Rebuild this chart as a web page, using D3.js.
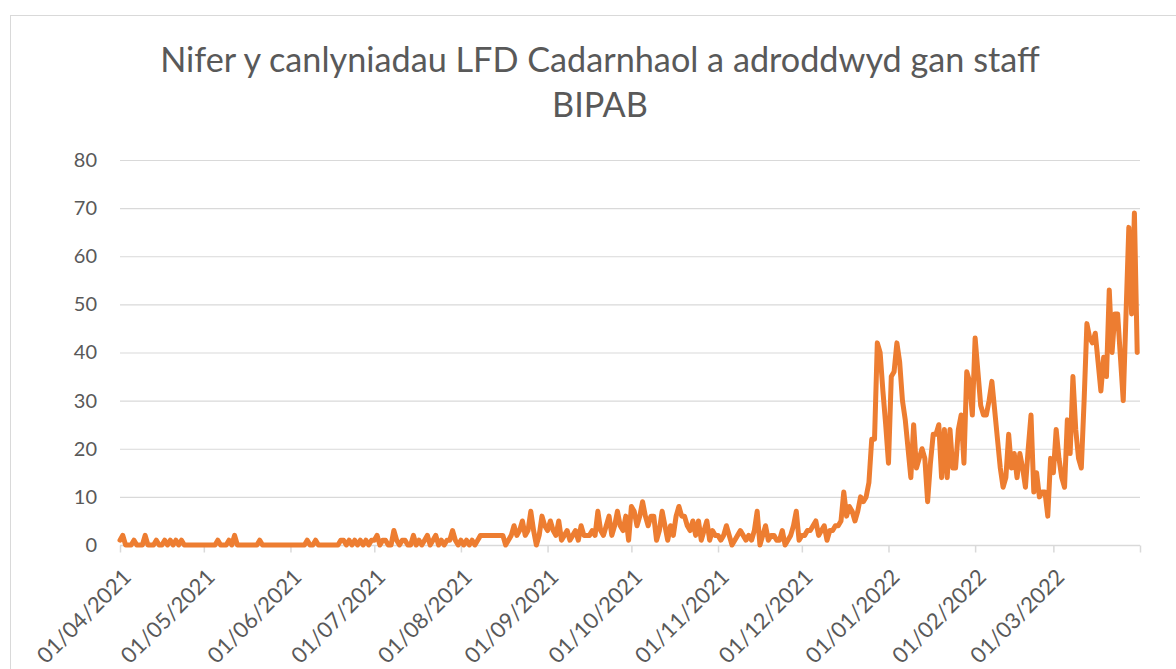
<!DOCTYPE html>
<html>
<head>
<meta charset="utf-8">
<script src="https://cdn.jsdelivr.net/npm/d3@7"></script>
<style>
  body { margin: 0; background: #fff; }
  svg { display: block; font-family: Lato, "Open Sans", sans-serif; }
</style>
</head>
<body>
<svg width="1176" height="669"></svg>
<script>
// daily counts, one array per month (01/04/2021 - 31/03/2022)
const apr21 = [1,2,0,0,0,1,0,0,0,2,0,0,0,1,0,0,1,0,1,0,1,0,1,0,0,0,0,0,0,0];
const may21 = [0,0,0,0,0,1,0,0,0,1,0,2,0,0,0,0,0,0,0,0,1,0,0,0,0,0,0,0,0,0,0];
const jun21 = [0,0,0,0,0,0,1,0,0,1,0,0,0,0,0,0,0,0,1,1,0,1,0,1,0,1,0,1,0,1];
const jul21 = [1,2,0,1,1,0,0,3,1,0,1,1,0,0,2,0,1,0,1,2,0,1,2,0,1,0,1,1,3,1,0];
const aug21 = [1,0,1,0,1,0,1,2,2,2,2,2,2,2,2,2,0,1,2,4,2,3,5,2,3,7,3,0,2,6,4];
const sep21 = [3,5,3,2,5,1,2,3,1,2,3,1,4,2,2,2,3,2,7,3,2,4,6,2,4,7,4,3,6,1];
const oct21 = [8,7,4,6,9,6,4,6,6,1,3,7,4,1,4,2,6,8,6,6,4,3,5,2,5,1,3,5,1,3,2];
const nov21 = [2,1,2,4,2,0,1,2,3,2,1,2,1,3,7,0,2,4,1,2,2,1,1,3,0,1,2,4,7,1];
const dec21 = [2,2,3,3,4,5,2,3,4,1,3,3,4,4,5,11,6,8,7,5,7,10,9,10,13,22,22,42,40,32,25];
const jan22 = [17,35,36,42,38,30,26,20,14,25,16,18,20,18,9,17,23,23,25,14,24,14,24,16,16,24,27,17,36,34,27];
const feb22 = [43,36,29,27,27,30,34,28,22,16,12,14,23,16,19,14,19,16,12,20,27,11,15,10,11,11,6,18];
const mar22 = [15,24,18,14,12,26,19,35,24,18,16,30,46,43,42,44,38,32,39,35,53,40,48,48,39,30,48,66,48,69,40];

const yTicks = [0, 10, 20, 30, 40, 50, 60, 70, 80];
const titleLines = ["Nifer y canlyniadau LFD Cadarnhaol a adroddwyd gan staff", "BIPAB"];

const start = new Date(Date.UTC(2021, 3, 1));
const end = new Date(Date.UTC(2022, 3, 1));
const counts = [].concat(apr21, may21, jun21, jul21, aug21, sep21, oct21, nov21, dec21, jan22, feb22, mar22);
const data = counts.map((v, i) => ({ date: d3.utcDay.offset(start, i), value: v }));

const grey = "#595959";
const svg = d3.select("svg");

// chart area border
svg.append("rect")
  .attr("x", 10.5).attr("y", 15.5)
  .attr("width", 1200).attr("height", 700)
  .attr("fill", "none").attr("stroke", "#d9d9d9");

const x = d3.scaleUtc().domain([start, end]).range([120, 1140]);
const y = d3.scaleLinear().domain([0, 80]).range([545, 160]);

// title
const title = svg.append("g").attr("fill", grey).attr("text-anchor", "middle");
title.selectAll("text")
  .data(titleLines)
  .enter()
  .append("text")
  .attr("x", 600)
  .attr("y", (d, i) => 72 + i * 45)
  .attr("font-size", 32)
  .text(d => d);
// squeeze the first line to the width it has in the picture
const t0 = title.select("text").node();
const w0 = t0.getComputedTextLength();
title.selectAll("text").attr("font-size", 32 * 880 / w0);

// gridlines
svg.append("g")
  .selectAll("line")
  .data(yTicks.slice(1))
  .enter()
  .append("line")
  .attr("x1", 120).attr("x2", 1140)
  .attr("y1", d => y(d) + 0.5).attr("y2", d => y(d) + 0.5)
  .attr("stroke", "#d9d9d9").attr("stroke-width", 1.2);

// y axis labels
const yAxis = svg.append("g")
  .attr("transform", "translate(97,0)")
  .call(d3.axisLeft(y).tickValues(yTicks).tickSize(0).tickPadding(0));
yAxis.select(".domain").remove();
yAxis.selectAll("text").attr("fill", grey).attr("font-size", 20).attr("font-family", "Lato");

// x axis
const months = d3.utcMonth.range(start, d3.utcDay.offset(end, 1));
const fmt = d3.utcFormat("%d/%m/%Y");
const xAxis = svg.append("g")
  .attr("transform", "translate(0,545.5)")
  .call(d3.axisBottom(x).tickValues(months).tickSize(7)
    .tickFormat((d, i) => i < months.length - 1 ? fmt(d) : ""));
xAxis.select(".domain").attr("stroke", "#d9d9d9").attr("stroke-width", 1.5).attr("d", "M120,0H1140");
xAxis.selectAll(".tick line").attr("stroke", "#d9d9d9").attr("stroke-width", 1.5);
xAxis.selectAll(".tick text")
  .attr("fill", grey)
  .attr("font-size", 22)
  .attr("font-family", "Lato")
  .attr("text-anchor", "end")
  .attr("dy", 0)
  .attr("y", 0)
  .attr("transform", "translate(12,33) rotate(-45)");

// the line
const line = d3.line()
  .x(d => x(d.date))
  .y(d => y(d.value));

svg.append("path")
  .datum(data)
  .attr("d", line)
  .attr("fill", "none")
  .attr("stroke", "#ED7D31")
  .attr("stroke-width", 5)
  .attr("stroke-linejoin", "round")
  .attr("stroke-linecap", "round");
</script>
</body>
</html>
